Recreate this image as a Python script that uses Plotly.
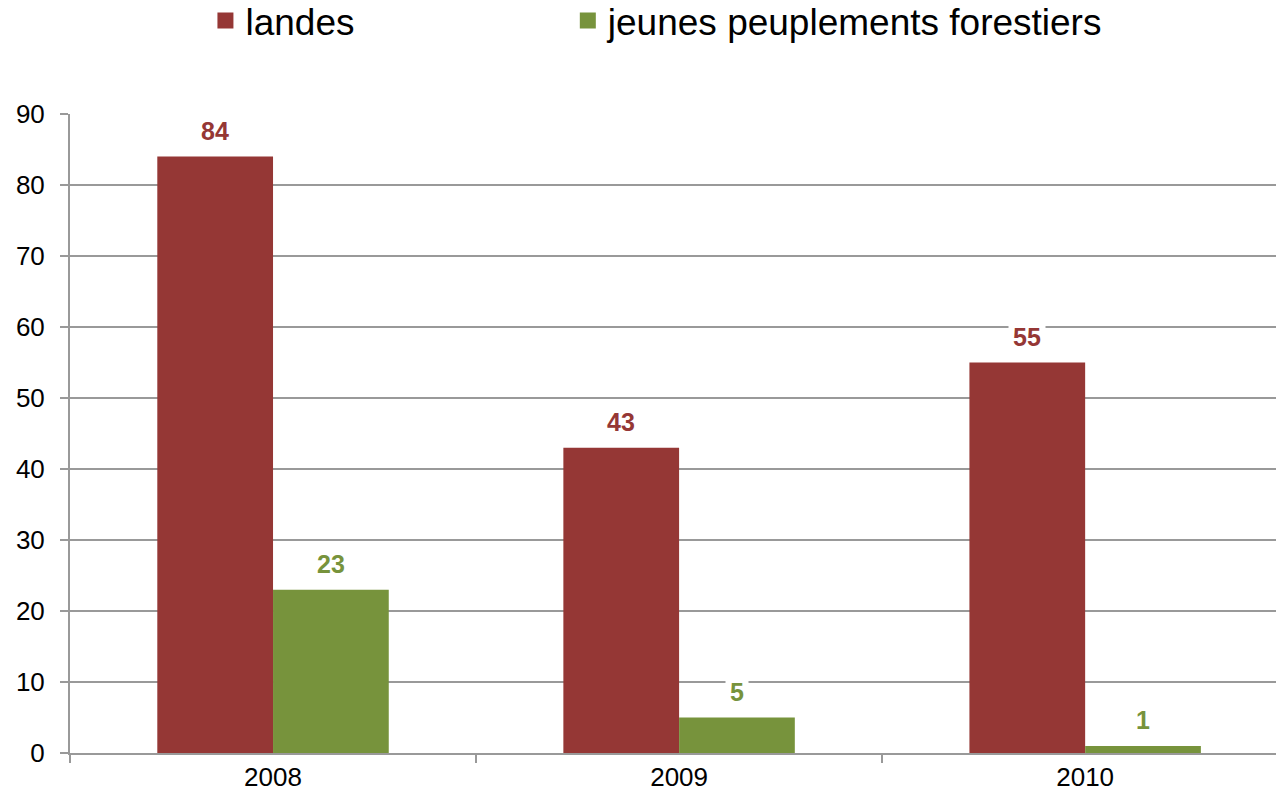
import plotly.graph_objects as go

years = ["2008", "2009", "2010"]
landes = [84, 43, 55]
jeunes = [23, 5, 1]
series_names = ["landes", "jeunes peuplements forestiers"]
colors = ["#953735", "#77933C"]

BARGAP = 0.43
FONT = "Liberation Sans, Arial, sans-serif"

fig = go.Figure()
for name, vals, col in zip(series_names, [landes, jeunes], colors):
    fig.add_trace(go.Bar(x=years, y=vals, name=name, showlegend=False,
                         marker=dict(color=col, line=dict(width=0))))
# legend entries with larger square swatches
for name, col, lg in zip(series_names, colors, ["legend", "legend2"]):
    fig.add_trace(go.Scatter(x=[None], y=[None], mode="markers", name=name, legend=lg,
                             showlegend=True,
                             marker=dict(symbol="square", size=19, color=col, line=dict(width=0))))

# data labels with white background (as annotations)
bw = (1 - BARGAP) / 2
for k, (vals, col) in enumerate(zip([landes, jeunes], colors)):
    off = -bw / 2 if k == 0 else bw / 2
    for i, v in enumerate(vals):
        fig.add_annotation(x=i + off, y=v, xref="x", yref="y", text=str(v),
                           showarrow=False, yanchor="bottom", yshift=7,
                           font=dict(family=FONT, size=25, color=col, weight="bold"),
                           bgcolor="white", borderpad=4)

legend_font = dict(size=37, family=FONT, color="black")
fig.update_layout(
    width=1276, height=799,
    showlegend=True,
    margin=dict(l=70, r=0, t=114, b=46, autoexpand=False),
    paper_bgcolor="white", plot_bgcolor="white",
    barmode="group", bargap=BARGAP, bargroupgap=0,
    font=dict(family=FONT, color="black"),
    legend=dict(orientation="h", xref="container", yref="container",
                x=0.161, xanchor="left", y=0.9737, yanchor="middle", font=legend_font,
                bgcolor="rgba(0,0,0,0)", visible=True),
    legend2=dict(orientation="h", xref="container", yref="container",
                 x=0.445, xanchor="left", y=0.9737, yanchor="middle", font=legend_font,
                 bgcolor="rgba(0,0,0,0)", visible=True),
    xaxis=dict(type="category", range=[-0.5, 2.47], tickson="boundaries",
               ticks="outside", ticklen=8, tickcolor="#999999", tickwidth=2,
               showline=True, linecolor="#999999", linewidth=2,
               tickfont=dict(size=26, family=FONT, color="black"), showgrid=False),
    yaxis=dict(range=[0, 90], dtick=10, ticks="outside", ticklen=8, tickcolor="#999999", tickwidth=2,
               showline=True, linecolor="#999999", linewidth=2,
               showgrid=True, gridcolor="#999999", gridwidth=2, zeroline=False,
               ticklabelstandoff=10,
               tickfont=dict(size=26, family=FONT, color="black")),
)

fig.write_html("out.html", config={"displayModeBar": False},
               post_script="document.body.style.margin='0px';")
